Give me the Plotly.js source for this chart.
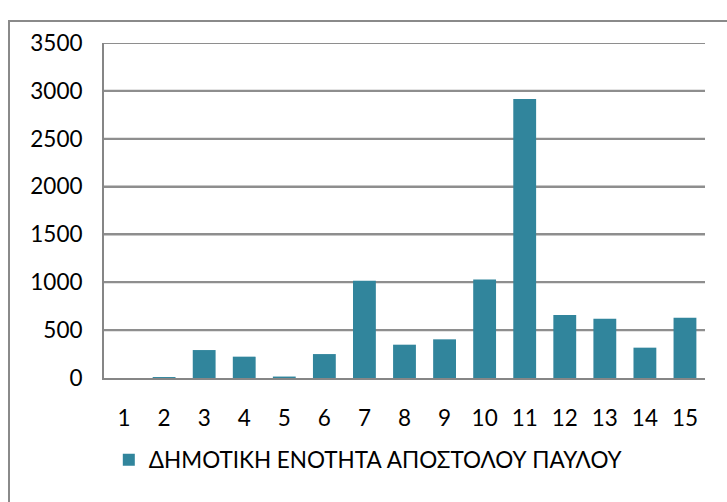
<!DOCTYPE html>
<html>
<head>
<meta charset="utf-8">
<script src="https://cdn.plot.ly/plotly-3.0.1.min.js"></script>
<style>
html,body{margin:0;padding:0;background:#fff;}
#wrap{position:relative;width:727px;height:502px;overflow:hidden;}
#chart{position:absolute;left:0;top:0;width:727px;height:502px;}
#frame{position:absolute;left:8px;top:20px;width:740px;height:500px;border:2px solid #8a8a8a;box-sizing:border-box;pointer-events:none;}
</style>
</head>
<body>
<div id="wrap"><div id="chart"></div><div id="frame"></div></div>
<script>
const categories = ["1","2","3","4","5","6","7","8","9","10","11","12","13","14","15"];
const values = [0, 10, 292, 223, 15, 250, 1016, 348, 404, 1030, 2916, 658, 619, 317, 630];
const seriesName = "ΔΗΜΟΤΙΚΗ ΕΝΟΤΗΤΑ ΑΠΟΣΤΟΛΟΥ ΠΑΥΛΟΥ";
const yTicks = [0, 500, 1000, 1500, 2000, 2500, 3000, 3500];

const font = {family: "Lato, 'Open Sans', sans-serif", size: 22.5, color: "#000"};
const gridShapes = yTicks.filter(v => v > 0).map(v => ({
  type: "line", xref: "paper", yref: "y", x0: 0, x1: 1, y0: v, y1: v,
  line: {color: "#8e8e8e", width: 2}, layer: "below"
}));
Plotly.newPlot("chart", [{
  type: "bar",
  x: categories,
  y: values,
  name: seriesName,
  marker: {color: "#31859c"},
  showlegend: true
}], {
  width: 727, height: 502,
  margin: {l: 104, r: 22, t: 43, b: 124},
  paper_bgcolor: "#fff", plot_bgcolor: "#fff",
  bargap: 0.43,
  font: font,
  shapes: gridShapes,
  xaxis: {type: "category", showgrid: false, showline: true, linecolor: "#868686", linewidth: 2,
          ticks: "outside", ticklen: 19, tickcolor: "rgba(0,0,0,0)", tickfont: font},
  yaxis: {range: [0, 3500], tickvals: yTicks, ticktext: yTicks.map(String), showgrid: true, gridcolor: "#8e8e8e", gridwidth: 2,
          showline: true, linecolor: "#868686", linewidth: 2, zeroline: false,
          ticks: "outside", ticklen: 15, tickcolor: "rgba(0,0,0,0)", tickfont: font},
  legend: {orientation: "h", x: 0.008, xanchor: "left", y: -0.245, yanchor: "middle", font: font,
           itemwidth: 30, bgcolor: "rgba(0,0,0,0)"},
  showlegend: true
}, {displayModeBar: false, staticPlot: true});
</script>
</body>
</html>
